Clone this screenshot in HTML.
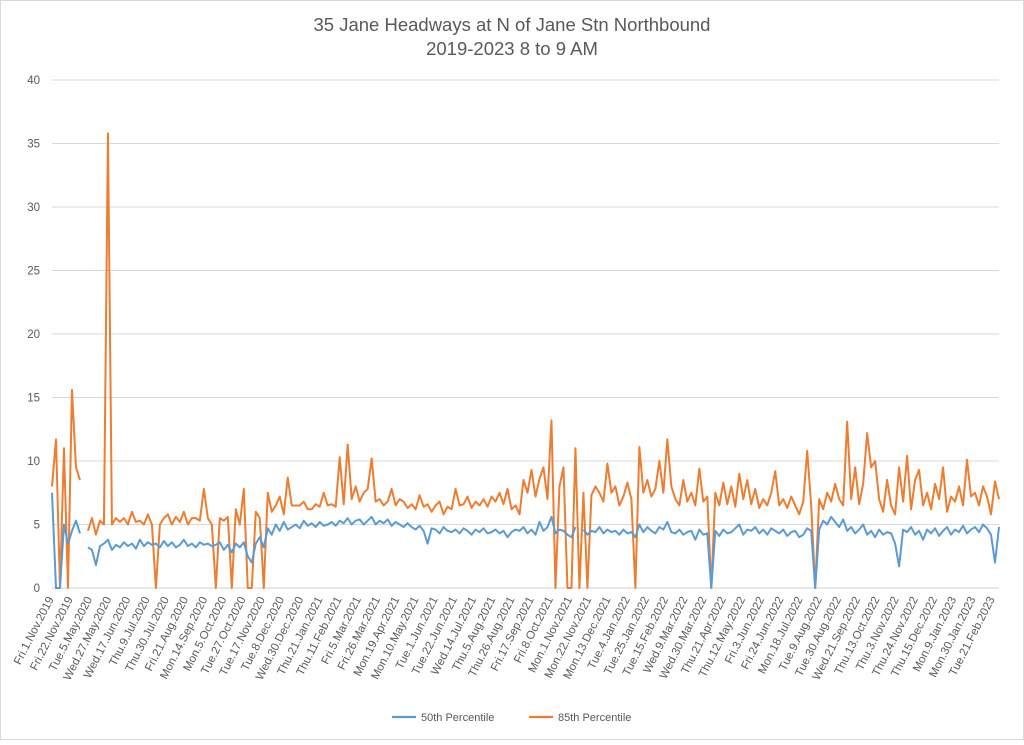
<!DOCTYPE html>
<html><head><meta charset="utf-8">
<style>
html,body{margin:0;padding:0;background:#fff;}
body{width:1024px;height:740px;overflow:hidden;font-family:"Liberation Sans",Arial,sans-serif;}
</style></head>
<body>
<svg id="chart" width="1024" height="740" xmlns="http://www.w3.org/2000/svg" font-family="Liberation Sans, Arial, sans-serif">
<rect x="0.5" y="0.5" width="1023" height="739" fill="#fff" stroke="#d9d9d9"/>
<text x="512" y="31" text-anchor="middle" font-size="18.5" fill="#595959">35 Jane Headways at N of Jane Stn Northbound</text>
<text x="512" y="55" text-anchor="middle" font-size="18.5" fill="#595959">2019-2023 8 to 9 AM</text>
<g id="grid"></g>
<g id="xlabels"></g>
<g id="series"></g>
<g>
<line x1="392" y1="717" x2="416" y2="717" stroke="#5B9BD5" stroke-width="2.2"/>
<text x="421" y="721" font-size="11" fill="#595959">50th Percentile</text>
<line x1="529" y1="717" x2="553" y2="717" stroke="#ED7D31" stroke-width="2.2"/>
<text x="558" y="721" font-size="11" fill="#595959">85th Percentile</text>
</g>
</svg>
<script>
const yTicks = [0,5,10,15,20,25,30,35,40];
const xLabels = ["Fri.1.Nov.2019","Fri.22.Nov.2019","Tue.5.May.2020","Wed.27.May.2020","Wed.17.Jun.2020","Thu.9.Jul.2020","Thu.30.Jul.2020","Fri.21.Aug.2020","Mon.14.Sep.2020","Mon.5.Oct.2020","Tue.27.Oct.2020","Tue.17.Nov.2020","Tue.8.Dec.2020","Wed.30.Dec.2020","Thu.21.Jan.2021","Thu.11.Feb.2021","Fri.5.Mar.2021","Fri.26.Mar.2021","Mon.19.Apr.2021","Mon.10.May.2021","Tue.1.Jun.2021","Tue.22.Jun.2021","Wed.14.Jul.2021","Thu.5.Aug.2021","Thu.26.Aug.2021","Fri.17.Sep.2021","Fri.8.Oct.2021","Mon.1.Nov.2021","Mon.22.Nov.2021","Mon.13.Dec.2021","Tue.4.Jan.2022","Tue.25.Jan.2022","Tue.15.Feb.2022","Wed.9.Mar.2022","Wed.30.Mar.2022","Thu.21.Apr.2022","Thu.12.May.2022","Fri.3.Jun.2022","Fri.24.Jun.2022","Mon.18.Jul.2022","Tue.9.Aug.2022","Tue.30.Aug.2022","Wed.21.Sep.2022","Thu.13.Oct.2022","Thu.3.Nov.2022","Thu.24.Nov.2022","Thu.15.Dec.2022","Mon.9.Jan.2023","Mon.30.Jan.2023","Tue.21.Feb.2023"];
const p85 = [8,11.7,0,11,0,15.6,9.5,8.5,null,4.5,
5.5,4.2,5.3,5,35.8,5,5.5,5.2,5.5,5,
6,5.2,5.3,5,5.8,5,0,5,5.5,5.8,
5,5.6,5.2,6,5,5.5,5.5,5.3,7.8,5.5,
5,0,5.5,5.3,5.6,0,6.2,5,7.8,0,
0,6,5.5,0,7.5,6,6.5,7.2,5.8,8.7,
6.5,6.5,6.5,6.8,6.2,6.2,6.6,6.4,7.5,6.5,
6.6,6.4,10.3,6.6,11.3,7,8,6.8,7.5,7.8,
10.2,6.8,7,6.5,6.8,7.8,6.5,7,6.8,6.3,
6.6,6.2,7.3,6.4,6.6,6.0,6.5,6.8,5.8,6.4,
6.2,7.8,6.5,6.6,7.2,6.3,6.8,6.5,7,6.4,
7.2,6.8,7.5,6.6,7.8,6.2,6.5,5.8,8.5,7.5,
9.3,7.2,8.6,9.5,7,13.2,0,8,9.5,0,
0,11,0,7.5,0,7.3,8,7.5,6.8,9.8,
7.5,8,6.5,7.2,8.3,7,0,11.1,7.5,8.5,
7.2,7.8,10,7.5,11.7,8,7,6.5,8.5,6.8,
7.5,6.5,9.4,6.8,7.2,0,7.5,6.5,8.3,6.6,
8,6.4,9,7,8.5,6.6,7.8,6.3,7,6.5,
7.5,9.2,6.5,7,6.3,7.2,6.5,5.8,6.8,10.8,
6.5,0,7,6.2,7.5,6.8,8.2,7,6.5,13.1,
7,9.5,6.6,8.2,12.2,9.5,10,7,6,8.5,
6.5,5.8,9.5,6.8,10.4,6.2,8.5,9.3,6.5,7.5,
6.2,8.2,7,9.5,6,7.2,6.8,8,6.5,10.1,
7.2,7.5,6.5,8,7.2,5.8,8.4,7];
const p50 = [7.5,0,0,5,3.5,4.5,5.3,4.3,null,3.2,
3,1.8,3.3,3.5,3.8,3,3.4,3.2,3.6,3.3,
3.5,3.1,3.8,3.3,3.6,3.4,3.5,3.2,3.7,3.3,
3.6,3.2,3.4,3.8,3.3,3.5,3.2,3.6,3.4,3.5,
3.3,3.4,3.6,3.0,3.4,2.8,3.5,3.2,3.6,2.5,
2.0,3.5,4.0,3.2,4.7,4.2,5.0,4.5,5.2,4.6,
4.8,5.0,4.7,5.3,4.9,5.1,4.8,5.2,4.9,5.0,
5.2,4.9,5.3,5.1,5.5,5.0,5.3,5.4,5.0,5.3,
5.6,5.0,5.3,5.1,5.4,4.9,5.2,5.0,4.8,5.1,
4.8,4.6,4.9,4.5,3.5,4.7,4.6,4.3,4.8,4.5,
4.4,4.6,4.3,4.7,4.5,4.2,4.6,4.4,4.7,4.3,
4.4,4.6,4.3,4.5,4.0,4.4,4.6,4.5,4.8,4.3,
4.6,4.2,5.2,4.5,4.8,5.6,4.3,4.6,4.5,4.2,
4.0,4.8,null,4.6,4.2,4.5,4.4,4.8,4.3,4.6,
4.4,4.5,4.2,4.6,4.3,4.4,4.0,5.0,4.4,4.8,
4.5,4.3,4.8,4.6,5.2,4.4,4.3,4.6,4.2,4.4,
4.5,3.8,4.6,4.2,4.3,0,4.5,4.1,4.6,4.3,
4.4,4.7,5.0,4.2,4.6,4.5,4.8,4.3,4.6,4.2,
4.7,4.5,4.3,4.6,4.1,4.4,4.5,4.0,4.2,4.7,
4.5,0,4.6,5.3,5.0,5.6,5.2,4.8,5.4,4.5,
4.8,4.3,4.6,5.0,4.2,4.5,4.0,4.6,4.2,4.4,
4.3,3.5,1.7,4.6,4.4,4.8,4.2,4.5,3.8,4.6,
4.3,4.7,4.1,4.5,4.8,4.2,4.6,4.4,4.9,4.3,
4.6,4.8,4.4,5.0,4.7,4.2,2.0,4.8];

const NS = "http://www.w3.org/2000/svg";
const plotLeft = 52, plotRight = 999, plotTop = 80, plotBottom = 588, yMax = 40;
function yScale(v){ return plotBottom - v/yMax*(plotBottom-plotTop); }
function xScale(i, n){ return plotLeft + i*(plotRight-plotLeft)/(n-1); }
function labelX(i){ return 54 + i*(995-54)/(xLabels.length-1); }

const grid = document.getElementById('grid');
yTicks.forEach(function(t){
  const y = yScale(t);
  const ln = document.createElementNS(NS,'line');
  ln.setAttribute('x1', plotLeft); ln.setAttribute('x2', plotRight);
  ln.setAttribute('y1', y); ln.setAttribute('y2', y);
  ln.setAttribute('stroke', t===0 ? '#d0d0d0' : '#d9d9d9'); ln.setAttribute('stroke-width','1');
  
  
  grid.appendChild(ln);
  const tx = document.createElementNS(NS,'text');
  tx.setAttribute('x', 40); tx.setAttribute('y', y+4);
  tx.setAttribute('text-anchor','end'); tx.setAttribute('font-size','11.5'); tx.setAttribute('fill','#595959');
  tx.textContent = t;
  
  
  grid.appendChild(tx);
});

const xg = document.getElementById('xlabels');
xLabels.forEach(function(lab, i){
  const x = labelX(i), y = 599;
  const tx = document.createElementNS(NS,'text');
  tx.setAttribute('x', x); tx.setAttribute('y', y);
  tx.setAttribute('text-anchor','end'); tx.setAttribute('font-size','11.5'); tx.setAttribute('fill','#595959');
  tx.setAttribute('transform', 'rotate(-63 ' + x + ' ' + y + ')');
  tx.textContent = lab;
  
  
  xg.appendChild(tx);
});

function drawSeries(arr, color, name){
  let d = '', pen = false;
  arr.forEach(function(v, i){
    if (v === null){ pen = false; return; }
    d += (pen ? 'L' : 'M') + xScale(i, arr.length).toFixed(2) + ',' + yScale(v).toFixed(2);
    pen = true;
  });
  const p = document.createElementNS(NS,'path');
  p.setAttribute('d', d); p.setAttribute('fill','none');
  p.setAttribute('stroke', color); p.setAttribute('stroke-width','2');
  p.setAttribute('stroke-linejoin','round');
  
  
  document.getElementById('series').appendChild(p);
}
drawSeries(p85, '#ED7D31', 'line-85th-percentile');
drawSeries(p50, '#5B9BD5', 'line-50th-percentile');
</script>
</body></html>
